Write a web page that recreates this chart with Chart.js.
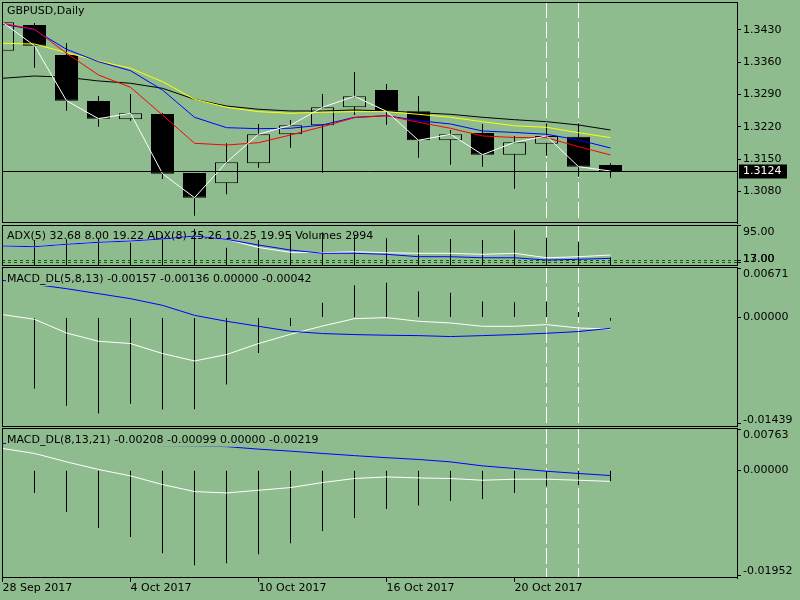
<!DOCTYPE html>
<html>
<head>
<meta charset="utf-8">
<script src="https://cdn.jsdelivr.net/npm/chart.js@4.4.0/dist/chart.umd.min.js"></script>
<style>
  html, body { margin: 0; padding: 0; background: #8fbc8f; }
  #wrap { position: relative; width: 800px; height: 600px; background: #8fbc8f; overflow: hidden; }
  canvas { position: absolute; left: 0; }
</style>
</head>
<body>
<div id="wrap">
  <canvas id="pricePane" width="800" height="225" style="top:0px"></canvas>
  <canvas id="adxPane" width="800" height="41" style="top:225px"></canvas>
  <canvas id="macd1Pane" width="800" height="161" style="top:266px"></canvas>
  <canvas id="macd2Pane" width="800" height="173" style="top:427px"></canvas>
</div>
<script>
// ---- data ----
const barDates = ["28 Sep 2017", "29 Sep 2017", "2 Oct 2017", "3 Oct 2017", "4 Oct 2017",
  "5 Oct 2017", "6 Oct 2017", "9 Oct 2017", "10 Oct 2017", "11 Oct 2017", "12 Oct 2017",
  "13 Oct 2017", "16 Oct 2017", "17 Oct 2017", "18 Oct 2017", "19 Oct 2017", "20 Oct 2017",
  "23 Oct 2017", "24 Oct 2017", "25 Oct 2017"];
const axisTickBars = [0, 4, 8, 12, 16];
const markedBars = [17, 18];

const openPrices  = [1.33851, 1.34408, 1.33758, 1.32760, 1.32363, 1.32478, 1.31198, 1.30975, 1.31408, 1.32038,
                     1.32233, 1.32623, 1.32998, 1.32536, 1.31907, 1.32066, 1.31595, 1.31834, 1.31985, 1.31372];
const highPrices  = [1.34560, 1.34452, 1.34018, 1.32868, 1.32912, 1.32500, 1.31198, 1.31842, 1.32261, 1.32348,
                     1.32912, 1.33389, 1.33129, 1.32868, 1.32131, 1.32261, 1.32001, 1.32276, 1.32276, 1.31408];
const lowPrices   = [1.33820, 1.33482, 1.32549, 1.32202, 1.32333, 1.31068, 1.30272, 1.30736, 1.31313, 1.31747,
                     1.31205, 1.32456, 1.32246, 1.31530, 1.31378, 1.31335, 1.30858, 1.31573, 1.31118, 1.31096];
const closePrices = [1.34467, 1.33959, 1.32766, 1.32376, 1.32493, 1.31183, 1.30662, 1.31430, 1.32038, 1.32233,
                     1.32623, 1.32862, 1.32536, 1.31907, 1.32038, 1.31595, 1.31864, 1.32001, 1.31335, 1.31240];

const maRed    = [1.34445, 1.34315, 1.33795, 1.33324, 1.33057, 1.32456, 1.31842, 1.31805, 1.31855, 1.32022,
                  1.32202, 1.32398, 1.32441, 1.32298, 1.32168, 1.32001, 1.31968, 1.31964, 1.31769, 1.31589];
const maBlue   = [1.34430, 1.34300, 1.33881, 1.33612, 1.33417, 1.32998, 1.32406, 1.32181, 1.32159, 1.32168,
                  1.32239, 1.32406, 1.32441, 1.32333, 1.32261, 1.32109, 1.32077, 1.32038, 1.31914, 1.31740];
const maYellow = [1.34011, 1.33996, 1.33808, 1.33628, 1.33469, 1.33179, 1.32797, 1.32623, 1.32528, 1.32493,
                  1.32515, 1.32528, 1.32528, 1.32471, 1.32406, 1.32311, 1.32222, 1.32189, 1.32072, 1.31964];
const maBlack  = [1.33252, 1.33302, 1.33274, 1.33194, 1.33144, 1.33035, 1.32797, 1.32651, 1.32580, 1.32543,
                  1.32543, 1.32565, 1.32543, 1.32506, 1.32471, 1.32406, 1.32354, 1.32311, 1.32239, 1.32131];
const lastPrice = 1.3124;
const priceTicks = [1.3080, 1.3150, 1.3220, 1.3290, 1.3360, 1.3430];

const adxFast = [50.4, 48.8, 54.2, 58.6, 61.5, 66.0, 72.7, 65.3, 47.0, 36.3,
                 35.4, 37.6, 35.4, 34.1, 34.1, 31.8, 34.1, 24.2, 26.5, 30.3];
const adxSlow = [50.4, 48.8, 54.2, 58.6, 61.5, 66.0, 72.7, 65.3, 52.6, 41.4,
                 34.1, 34.1, 31.8, 26.5, 26.5, 24.2, 24.2, 19.1, 20.7, 22.9];
const volumes = [9000, 9700, 10000, 10400, 8700, 11700, 14000, 6700, 9700, 12100,
                 12700, 11700, 10400, 11700, 10100, 9700, 13600, 10600, 8900, 2994];
const adxLevels = [17, 13];
const adxTicks = [95, 17, 13];

const macd1Hist   = [-0.00680, -0.00965, -0.01201, -0.01304, -0.01174, -0.01250, -0.01246, -0.00910, -0.00481, -0.00114,
                     0.00204, 0.00439, 0.00476, 0.00357, 0.00340, 0.00221, 0.00208, 0.00221, 0.00076, -0.00042];
const macd1Main   = [0.00041, -0.00023, -0.00209, -0.00322, -0.00353, -0.00489, -0.00590, -0.00503, -0.00353, -0.00227,
                     -0.00114, -0.00014, 0.00000, -0.00050, -0.00073, -0.00118, -0.00118, -0.00095, -0.00141, -0.00157];
const macd1Signal = [0.00507, 0.00452, 0.00394, 0.00326, 0.00258, 0.00167, 0.00031, -0.00050, -0.00118, -0.00186,
                     -0.00217, -0.00231, -0.00240, -0.00245, -0.00258, -0.00245, -0.00231, -0.00213, -0.00190, -0.00145];
const macd1Ticks = [0.00671, 0, -0.01439];

const macd2Hist   = [-0.00200, -0.00422, -0.00775, -0.01073, -0.01240, -0.01538, -0.01761, -0.01724, -0.01556, -0.01352,
                     -0.01129, -0.00887, -0.00720, -0.00656, -0.00571, -0.00534, -0.00422, -0.00298, -0.00273, -0.00219];
const macd2Main   = [0.00403, 0.00310, 0.00155, 0.00013, -0.00106, -0.00266, -0.00396, -0.00422, -0.00372, -0.00322,
                     -0.00229, -0.00154, -0.00125, -0.00143, -0.00154, -0.00186, -0.00167, -0.00167, -0.00186, -0.00208];
const macd2Signal = [0.00496, 0.00487, 0.00478, 0.00469, 0.00461, 0.00454, 0.00446, 0.00437, 0.00390, 0.00353,
                     0.00310, 0.00270, 0.00232, 0.00199, 0.00154, 0.00080, 0.00032, -0.00019, -0.00061, -0.00099];
const macd2Ticks = [0.00763, 0, -0.01952];

// ---- drawing ----
const BG = '#8fbc8f';
const FONT = '11px "DejaVu Sans"';
Chart.defaults.font.family = 'DejaVu Sans';
Chart.defaults.font.size = 11;

// bar i sits on pixel column 2 + 32*i
const X_MIN = -0.5 / 32;
const X_MAX = X_MIN + 735 / 32;

const paneInfo = {};

const mtPane = {
  id: 'mtPane',
  beforeDraw(chart) {
    const ctx = chart.ctx;
    ctx.save();
    ctx.fillStyle = BG;
    ctx.fillRect(0, 0, chart.width, chart.height);
    ctx.restore();
  },
  beforeDatasetsDraw(chart) {
    const info = paneInfo[chart.canvas.id];
    const { ctx, chartArea: a, scales } = chart;
    ctx.save();
    ctx.lineWidth = 1;
    if (info.levels) {
      ctx.strokeStyle = '#006400';
      ctx.setLineDash([3, 3]);
      info.levels.forEach(v => {
        const y = Math.floor(scales.y.getPixelForValue(v)) + 0.5;
        ctx.beginPath(); ctx.moveTo(a.left, y); ctx.lineTo(a.right, y); ctx.stroke();
      });
    }
    ctx.strokeStyle = '#ffffff';
    ctx.setLineDash([16, 4]);
    markedBars.forEach(b => {
      const x = Math.floor(scales.x.getPixelForValue(b)) + 0.5;
      ctx.beginPath(); ctx.moveTo(x, a.top); ctx.lineTo(x, a.bottom); ctx.stroke();
    });
    ctx.restore();
  },
  afterDatasetsDraw(chart) {
    const info = paneInfo[chart.canvas.id];
    const { ctx, chartArea: a, scales } = chart;
    ctx.save();
    ctx.lineWidth = 1;
    ctx.strokeStyle = '#000';
    ctx.setLineDash([]);

    let lastY = null;
    if (info.lastPrice) {
      lastY = Math.floor(scales.y.getPixelForValue(info.lastPrice)) + 0.5;
      ctx.beginPath(); ctx.moveTo(a.left, lastY); ctx.lineTo(a.right, lastY); ctx.stroke();
    }

    // pane frame
    ctx.strokeRect(a.left + 0.5, a.top + 0.5, a.right - a.left, a.bottom - a.top - 1);

    // pane caption
    ctx.font = FONT;
    ctx.textBaseline = 'middle';
    ctx.textAlign = 'left';
    const ty = a.top + info.titleDy;
    if (info.titleBg) {
      const w = ctx.measureText(info.title).width;
      ctx.fillStyle = BG;
      ctx.fillRect(6, ty - 7, w + 2, 14);
    }
    ctx.fillStyle = '#000';
    ctx.fillText(info.title, 7, ty);

    // right scale labels
    info.ticks.forEach(v => {
      let y = scales.y.getPixelForValue(v);
      y = Math.min(Math.max(y, a.top + 7), a.bottom - 7);
      ctx.fillText(v.toFixed(info.decimals), a.right + 6, y);
    });

    if (info.lastPrice) {
      ctx.fillStyle = '#000';
      ctx.fillRect(a.right + 2, lastY - 7, 48, 14);
      ctx.fillStyle = '#ffffff';
      ctx.fillText(info.lastPrice.toFixed(4), a.right + 6, lastY);
    }
    ctx.restore();
  }
};

const pts = arr => arr.map((v, i) => ({ x: i, y: v }));

function lineSet(values, color, order) {
  return { type: 'line', data: pts(values), borderColor: color, borderWidth: 1,
           pointRadius: 0, tension: 0, fill: false, order: order };
}

function stickSet(values, axis, order) {
  return { type: 'bar', data: pts(values), yAxisID: axis || 'y', backgroundColor: '#000',
           borderWidth: 0, barThickness: 1, grouped: false, inflateAmount: 0, order: order };
}

function makePane(id, info, datasets, extraScales, showDates) {
  paneInfo[id] = info;
  const xScale = {
    type: 'linear', min: X_MIN, max: X_MAX, offset: false, display: !!showDates,
    grid: { display: true, drawOnChartArea: false, drawTicks: true, tickLength: 4, color: '#000', offset: false },
    border: { display: false },
    ticks: { autoSkip: false, maxRotation: 0, minRotation: 0, align: 'start', padding: 0, color: '#000',
             font: { family: 'DejaVu Sans', size: 11 }, callback: v => barDates[Math.round(v)] },
    afterBuildTicks: s => { s.ticks = axisTickBars.map(v => ({ value: v })); }
  };
  if (showDates) xScale.afterFit = s => { s.height = 22; };
  const yScale = {
    type: 'linear', position: 'right', min: info.min, max: info.max,
    grid: { drawOnChartArea: false, drawTicks: true, tickLength: 4, color: '#000' },
    border: { display: true, color: '#000' },
    ticks: { display: false },
    afterBuildTicks: s => { s.ticks = info.ticks.map(v => ({ value: v })); },
    afterFit: s => { s.width = 63; }
  };
  return new Chart(document.getElementById(id), {
    type: 'bar',
    data: { datasets: datasets },
    options: {
      responsive: false,
      animation: false,
      devicePixelRatio: 1,
      events: [],
      layout: { padding: { left: 2, right: 0, top: info.padTop, bottom: info.padBottom } },
      plugins: { legend: { display: false }, tooltip: { enabled: false } },
      scales: Object.assign({ x: xScale, y: yScale }, extraScales || {})
    },
    plugins: [mtPane]
  });
}

// price pane
makePane('pricePane',
  { title: 'GBPUSD,Daily', titleDy: 9.5, titleBg: false, ticks: priceTicks, decimals: 4,
    min: 1.30113, max: 1.34907, padTop: 2, padBottom: 2, lastPrice: lastPrice },
  [
    { type: 'bar', data: lowPrices.map((l, i) => ({ x: i, y: [l, highPrices[i]] })),
      backgroundColor: '#000', borderWidth: 0, barThickness: 1, grouped: false, inflateAmount: 0, order: 10 },
    { type: 'bar', data: openPrices.map((o, i) => ({ x: i, y: [o, closePrices[i]] })),
      backgroundColor: openPrices.map((o, i) => closePrices[i] >= o ? BG : '#000'),
      borderColor: '#000', borderWidth: 1, borderSkipped: false, barThickness: 23,
      grouped: false, inflateAmount: 0, order: 9 },
    lineSet(maBlack, '#000000', 5),
    lineSet(maYellow, '#ffff00', 4),
    lineSet(maBlue, '#0000ff', 3),
    lineSet(maRed, '#ff0000', 2),
    lineSet(closePrices, '#ffffff', 1)
  ]);

// ADX + volumes pane
makePane('adxPane',
  { title: 'ADX(5) 32.68 8.00 19.22 ADX(8) 25.26 10.25 19.95 Volumes 2994', titleDy: 11, titleBg: false,
    ticks: adxTicks, decimals: 2, min: 5.8, max: 97.2, padTop: 0, padBottom: 0, levels: adxLevels },
  [
    stickSet(volumes, 'yv', 10),
    lineSet(adxFast, '#ffffff', 3),
    lineSet(adxSlow, '#0000ff', 2)
  ],
  { yv: { type: 'linear', display: false, min: -389, max: 15560 } });

// MACD (5,8,13)
makePane('macd1Pane',
  { title: 'MACD_DL(5,8,13) -0.00157 -0.00136 0.00000 -0.00042', titleDy: 12, titleBg: true,
    ticks: macd1Ticks, decimals: 5, min: -0.01489, max: 0.00689, padTop: 1, padBottom: 0 },
  [
    stickSet(macd1Hist, 'y', 10),
    lineSet(macd1Main, '#ffffff', 3),
    lineSet(macd1Signal, '#0000ff', 2)
  ]);

// MACD (8,13,21) with the date axis
makePane('macd2Pane',
  { title: 'MACD_DL(8,13,21) -0.00208 -0.00099 0.00000 -0.00219', titleDy: 11.7, titleBg: true,
    ticks: macd2Ticks, decimals: 5, min: -0.01998, max: 0.00782, padTop: 1, padBottom: 0 },
  [
    stickSet(macd2Hist, 'y', 10),
    lineSet(macd2Main, '#ffffff', 3),
    lineSet(macd2Signal, '#0000ff', 2)
  ], null, true);
</script>
</body>
</html>
